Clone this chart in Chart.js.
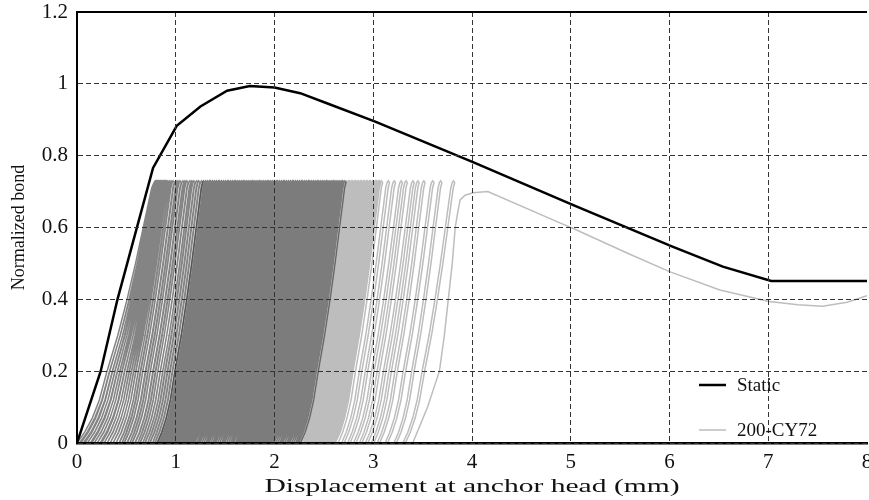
<!DOCTYPE html>
<html>
<head>
<meta charset="utf-8">
<script src="https://cdn.jsdelivr.net/npm/chart.js@4.4.1/dist/chart.umd.min.js"></script>
<style>
  html, body { margin: 0; padding: 0; background: #fff; }
</style>
</head>
<body>
<canvas id="chart" width="869" height="500"></canvas>
<script>
// ── Axis ticks and titles ──
const yTickLabels = ['0', '0.2', '0.4', '0.6', '0.8', '1', '1.2'];
const xTickLabels = ['0', '1', '2', '3', '4', '5', '6', '7', '8'];
const xAxisTitle = 'Displacement at anchor head (mm)';
const yAxisTitle = 'Normalized bond';

// ── Static curve ──
const staticX = [0, 0.24, 0.41, 0.77, 1.01, 1.25, 1.52, 1.75, 2.0, 2.26, 2.53, 3.02, 4.01, 5.02, 6.03, 6.54, 7.03, 8.0];
const staticY = [0, 0.2, 0.4, 0.766, 0.883, 0.937, 0.981, 0.994, 0.99, 0.974, 0.946, 0.895, 0.782, 0.663, 0.547, 0.491, 0.451, 0.451];

// ── 200-CY72 cycle loops: foot (slip at zero load) and peak position ──
// first cycles: feet spread out, peaks bunched near the top-left
const earlyFoot = [
  0.00, 0.04, 0.08, 0.11, 0.15, 0.18, 0.21, 0.25, 0.28, 0.31, 0.34, 0.37,
  0.40, 0.43, 0.45, 0.48, 0.51, 0.53, 0.56, 0.59, 0.61, 0.64, 0.66, 0.69, 0.71, 0.74, 0.76, 0.79
];
const earlyPeak = [
  0.78, 0.79, 0.80, 0.81, 0.82, 0.83, 0.84, 0.85, 0.86, 0.87, 0.88, 0.89,
  0.90, 0.92, 0.94, 0.96, 0.99, 1.01, 1.03, 1.06, 1.08, 1.10, 1.13, 1.15, 1.17, 1.20, 1.22, 1.25
];
// the dense middle block
const cycleFoot = [
  0.81, 0.83, 0.85, 0.87, 0.88, 0.90, 0.92, 0.94, 0.96, 0.97,
  0.99, 1.01, 1.03, 1.05, 1.06, 1.08, 1.10, 1.12, 1.13, 1.15,
  1.17, 1.19, 1.21, 1.22, 1.24, 1.26, 1.28, 1.30, 1.31, 1.33,
  1.35, 1.37, 1.38, 1.40, 1.42, 1.44, 1.46, 1.47, 1.49, 1.51,
  1.53, 1.55, 1.56, 1.58, 1.60, 1.62, 1.63, 1.65, 1.67, 1.69,
  1.71, 1.72, 1.74, 1.76, 1.78, 1.80, 1.81, 1.83, 1.85, 1.87,
  1.88, 1.90, 1.92, 1.94, 1.96, 1.97, 1.99, 2.01, 2.03, 2.05,
  2.06, 2.08, 2.10, 2.12, 2.13, 2.15, 2.17, 2.19, 2.21, 2.22, 2.24
];
const cyclePeak = [
  1.27, 1.29, 1.31, 1.33, 1.34, 1.36, 1.38, 1.40, 1.42, 1.43,
  1.45, 1.47, 1.49, 1.51, 1.52, 1.54, 1.56, 1.58, 1.59, 1.61,
  1.63, 1.65, 1.67, 1.68, 1.70, 1.72, 1.74, 1.76, 1.77, 1.79,
  1.81, 1.83, 1.84, 1.86, 1.88, 1.90, 1.92, 1.93, 1.95, 1.97,
  1.99, 2.01, 2.02, 2.04, 2.06, 2.08, 2.09, 2.11, 2.13, 2.15,
  2.17, 2.18, 2.20, 2.22, 2.24, 2.26, 2.27, 2.29, 2.31, 2.33,
  2.34, 2.36, 2.38, 2.40, 2.42, 2.43, 2.45, 2.47, 2.49, 2.51,
  2.52, 2.54, 2.56, 2.58, 2.59, 2.61, 2.63, 2.65, 2.67, 2.68, 2.70
];
// later, lighter loops
const lateFoot = [
  2.26, 2.28, 2.29, 2.31, 2.32, 2.34, 2.35, 2.37, 2.38, 2.40, 2.41, 2.43,
  2.44, 2.46, 2.47, 2.49, 2.50, 2.52, 2.53, 2.55, 2.56, 2.58, 2.59,
  2.62, 2.68, 2.74, 2.80, 2.86, 2.92, 2.98, 3.04, 3.12, 3.21, 3.30
];
const latePeak = [
  2.72, 2.74, 2.75, 2.77, 2.78, 2.80, 2.81, 2.83, 2.84, 2.86, 2.87, 2.89,
  2.90, 2.92, 2.93, 2.95, 2.96, 2.98, 2.99, 3.01, 3.02, 3.04, 3.05,
  3.07, 3.14, 3.20, 3.27, 3.32, 3.39, 3.44, 3.50, 3.59, 3.67, 3.80
];
// last loading and the softening branch
const finalX = [3.40, 3.55, 3.67, 3.72, 3.76, 3.80, 3.83, 3.86, 3.88, 3.93, 4.01, 4.16, 4.89, 5.02, 5.57, 6.00, 6.51, 7.01, 7.30, 7.55, 7.80, 8.00];
const finalY = [0, 0.1, 0.2, 0.3, 0.4, 0.5, 0.6, 0.65, 0.677, 0.69, 0.697, 0.70, 0.613, 0.598, 0.529, 0.477, 0.426, 0.394, 0.385, 0.381, 0.392, 0.41];

// shape of one loop's loading branch: load level vs fraction of foot→peak
const loopRiseY    = [0, 0.03, 0.07, 0.12, 0.20, 0.30, 0.40, 0.50, 0.60, 0.67, 0.71, 0.725];
const loopRiseFrac = [0, 0.10, 0.20, 0.29, 0.39, 0.53, 0.65, 0.76, 0.86, 0.93, 0.97, 1.00];
const loopTopY  = 0.73;
const unloadGap = 0.025;

const FONT = "'Liberation Serif', 'Times New Roman', serif";

function zipXY(xs, ys) {
  return xs.map((x, i) => ({ x, y: ys[i] }));
}

function loopPoints(feet, peaks) {
  const pts = [];
  feet.forEach((f, i) => {
    const span = peaks[i] - f;
    loopRiseY.forEach((y, k) => pts.push({ x: f + loopRiseFrac[k] * span, y }));
    pts.push({ x: peaks[i] + unloadGap / 2, y: loopTopY });
    for (let k = loopRiseY.length - 1; k >= 0; k--) {
      pts.push({ x: f + loopRiseFrac[k] * span + unloadGap, y: loopRiseY[k] });
    }
  });
  return pts;
}

const latePoints = loopPoints(lateFoot, latePeak).concat(zipXY(finalX, finalY));

// legend inside the plot (lower right) + the wide x-axis title
const insideLegend = {
  id: 'insideLegend',
  afterDraw(chart) {
    const ctx = chart.ctx;
    const area = chart.chartArea;
    const items = chart.data.datasets.filter(d => d.legendRow !== undefined);
    ctx.save();
    ctx.font = '19px ' + FONT;
    ctx.textBaseline = 'middle';
    ctx.fillStyle = '#111';
    items.forEach(d => {
      const y = 385 + d.legendRow * 45;
      ctx.strokeStyle = d.borderColor;
      ctx.lineWidth = d.borderWidth;
      ctx.beginPath();
      ctx.moveTo(699, y);
      ctx.lineTo(726, y);
      ctx.stroke();
      ctx.fillText(d.label, 737, y + 1);
    });

    // x title is set wide in the original figure
    const w = ctx.measureText(xAxisTitle).width;
    const sx = 415 / w;
    ctx.translate((area.left + area.right) / 2, 487);
    ctx.scale(sx, 1);
    ctx.textAlign = 'center';
    ctx.fillText(xAxisTitle, 0, 0);
    ctx.restore();
  }
};

const lineDefaults = { showLine: true, pointRadius: 0, tension: 0 };

new Chart(document.getElementById('chart'), {
  type: 'scatter',
  data: {
    datasets: [
      { ...lineDefaults, label: 'Static', data: zipXY(staticX, staticY),
        borderColor: '#000', borderWidth: 2.5, legendRow: 0 },
      { ...lineDefaults, label: '200-CY72', data: loopPoints(cycleFoot, cyclePeak),
        borderColor: 'rgba(50,50,50,0.64)', borderWidth: 1.5 },
      { ...lineDefaults, label: '200-CY72', data: loopPoints(earlyFoot, earlyPeak),
        borderColor: 'rgba(50,50,50,0.6)', borderWidth: 1.5 },
      { ...lineDefaults, label: '200-CY72', data: latePoints,
        borderColor: '#bdbdbd', borderWidth: 1.5, legendRow: 1 },
    ],
  },
  options: {
    responsive: false,
    animation: false,
    devicePixelRatio: 1,
    layout: { padding: { top: 12, right: 2, left: 0, bottom: 0 } },
    plugins: { legend: { display: false }, tooltip: { enabled: false } },
    scales: {
      x: {
        type: 'linear',
        min: 0, max: 8,
        afterFit: s => { s.height = 57; s.paddingRight = 0; s.paddingLeft = 0; },
        ticks: {
          stepSize: 1, color: '#111', padding: 7,
          font: { family: FONT, size: 21 },
          callback: (v, i) => xTickLabels[i],
        },
        grid: {
          z: 1, drawTicks: false, lineWidth: 1,
          color: c => (c.tick && c.tick.value >= 8 ? 'rgba(0,0,0,0)' : '#333'),
        },
        border: { display: true, z: 1, color: '#000', width: 2.5, dash: [5, 3] },
        title: { display: false, text: xAxisTitle },
      },
      y: {
        type: 'linear',
        min: 0, max: 1.2,
        afterFit: s => { s.width = 77; s.paddingTop = 0; s.paddingBottom = 0; },
        ticks: {
          stepSize: 0.2, color: '#111', padding: 9,
          font: { family: FONT, size: 21 },
          callback: (v, i) => yTickLabels[i],
        },
        grid: {
          z: 1, drawTicks: false,
          color: c => (c.tick && c.tick.value > 1.19 ? '#000' : '#333'),
          lineWidth: c => (c.tick && c.tick.value > 1.19 ? 2 : 1),
        },
        border: {
          display: true, z: 1, color: '#000', width: 2,
          dash: c => (c.tick && c.tick.value > 1.19 ? [] : [5, 3]),
        },
        title: {
          display: true, text: yAxisTitle, color: '#111',
          font: { family: FONT, size: 18 }, padding: { top: 8, bottom: 0 },
        },
      },
    },
  },
  plugins: [insideLegend],
});
</script>
</body>
</html>
